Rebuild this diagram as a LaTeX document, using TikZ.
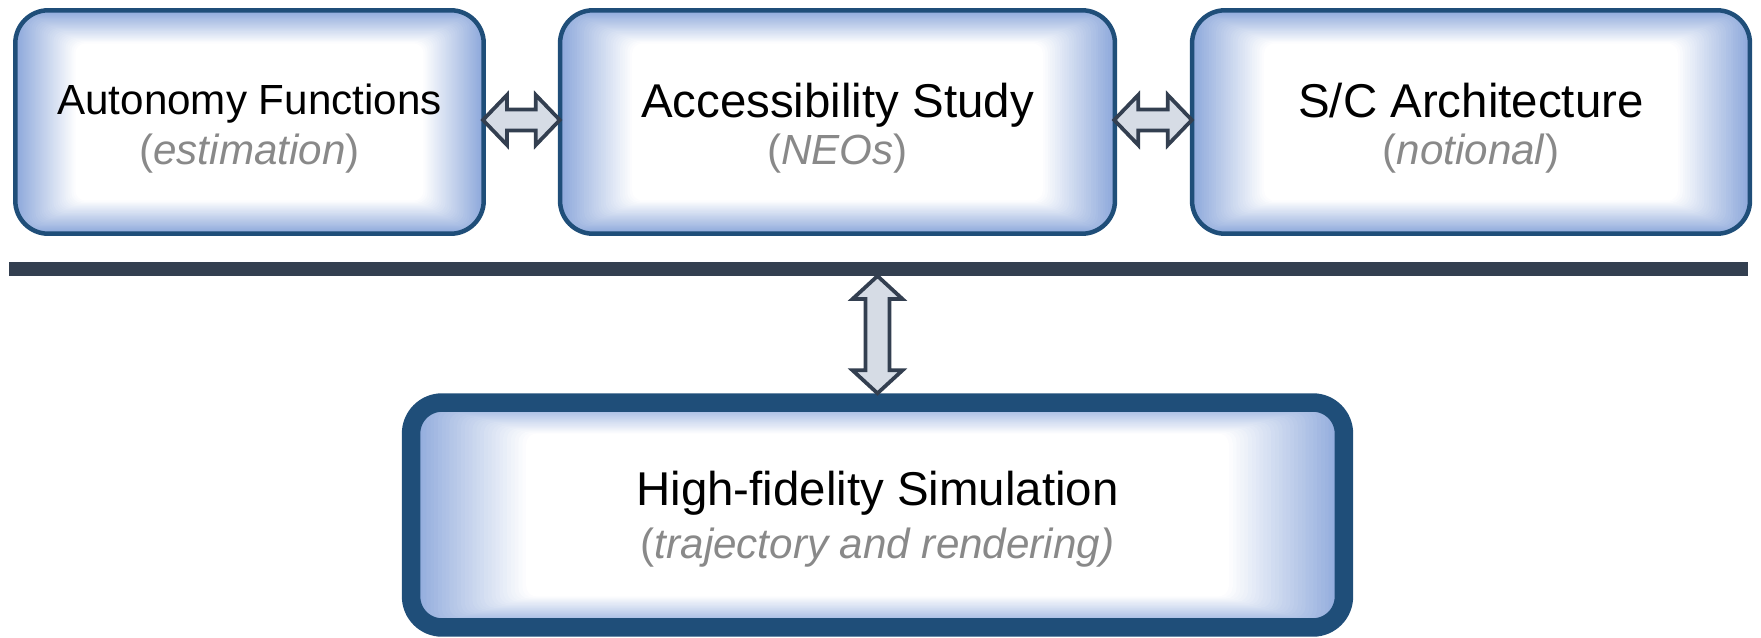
\documentclass[tikz,border=0pt]{standalone}
\usepackage{fontspec}
\setmainfont{Liberation Sans}
\usetikzlibrary{calc}
\definecolor{edgeblue}{HTML}{8DA8DB}
\definecolor{boxborder}{HTML}{1F4E79}
\definecolor{barcol}{HTML}{333F50}
\definecolor{arrowfill}{HTML}{D6DCE5}
\definecolor{arrowstroke}{HTML}{333F50}
\definecolor{subgray}{HTML}{898989}
\newcommand\ahl{0.48cm}
\newcommand\ahh{0.5cm}
\newcommand\ash{0.21cm}
\newcommand\glowfill[2]{%
  \foreach \i in {0,...,30}{%
    \pgfmathtruncatemacro\mixv{100*(1-\i/30)}%
    \fill[edgeblue!\mixv!white, rounded corners=6pt]
      ($(path picture bounding box.south west)+(\i*#1/30,-\i*#2/30)$) rectangle
      ($(path picture bounding box.north east)+(-\i*#1/30,\i*#2/30)$);
  }%
}
\begin{document}
\begin{tikzpicture}[x=0.02cm, y=-0.02cm,
  box/.style={rectangle, rounded corners=0.66cm, draw=boxborder, line width=0.09cm, inner sep=0pt},
  glow/.style 2 args={path picture={\glowfill{#1}{#2}}},
  titletext/.style={anchor=base, inner sep=0pt, font=\fontsize{27}{32}\selectfont},
  subtext/.style={anchor=base, inner sep=0pt, text=subgray, font=\fontsize{24}{29}\selectfont},
  fatarrow/.style={draw=arrowstroke, fill=arrowfill, line width=0.075cm, line join=miter}
]
\useasboundingbox (0,0) rectangle (1761,637);

% top boxes
\node[box, glow={60}{33}, minimum width=9.37cm, minimum height=4.47cm] (auto) at (249.5,122) {};
\node[box, glow={72}{33}, minimum width=11.1cm, minimum height=4.47cm] (acc) at (837.5,122) {};
\node[box, glow={72}{33}, minimum width=11.16cm, minimum height=4.47cm] (arch) at (1471,122) {};

% separator bar
\node[fill=barcol, minimum width=34.78cm, minimum height=0.28cm, inner sep=0pt, outer sep=0pt] (bar) at (878.5,269) {};

% bottom box
\node[box, line width=0.37cm, rounded corners=0.62cm, glow={115}{31}, minimum width=18.66cm, minimum height=4.5cm] (sim) at (877.5,515) {};

% texts
\node[titletext, font=\fontsize{24}{29}\selectfont] (autoT) at ($(auto.center)+(0,-8)$) {Autonomy Functions};
\node[subtext] (autoS) at ($(auto.center)+(0,42)$) {(\textit{estimation})};
\node[titletext] (accT) at ($(acc.center)+(0,-5)$) {Accessibility Study};
\node[subtext] (accS) at ($(acc.center)+(0,42)$) {(\textit{NEOs})};
\node[titletext] (archT) at ($(arch.center)+(0,-5)$) {S/C Architecture};
\node[subtext] (archS) at ($(arch.center)+(0,42)$) {(\textit{notional})};
\node[titletext] (simT) at ($(sim.center)+(0,-9.5)$) {High-fidelity Simulation};
\node[subtext] (simS) at ($(sim.center)+(0,43)$) {(\textit{trajectory and rendering)}};

% horizontal double arrows
\foreach \a/\b in {auto/acc, acc/arch}{
  \draw[fatarrow] let \p1=($(\a.east)+(-3,-2)$), \p2=($(\b.west)+(2,-2)$) in
    (\x1,\y1) -- (\x1+\ahl,\y1+\ahh) -- (\x1+\ahl,\y1+\ash) -- (\x2-\ahl,\y1+\ash)
    -- (\x2-\ahl,\y1+\ahh) -- (\x2,\y1) -- (\x2-\ahl,\y1-\ahh) -- (\x2-\ahl,\y1-\ash)
    -- (\x1+\ahl,\y1-\ash) -- (\x1+\ahl,\y1-\ahh) -- cycle;
}

% vertical double arrow
\draw[fatarrow] let \p1=(bar.south -| sim.north), \p2=(sim.north) in
  (\x1,\y1) -- (\x1+0.5cm,\y1-0.46cm) -- (\x1+0.24cm,\y1-0.46cm) -- (\x1+0.24cm,\y2+0.46cm)
  -- (\x1+0.5cm,\y2+0.46cm) -- (\x1,\y2) -- (\x1-0.5cm,\y2+0.46cm) -- (\x1-0.24cm,\y2+0.46cm)
  -- (\x1-0.24cm,\y1-0.46cm) -- (\x1-0.5cm,\y1-0.46cm) -- cycle;
\end{tikzpicture}
\end{document}
